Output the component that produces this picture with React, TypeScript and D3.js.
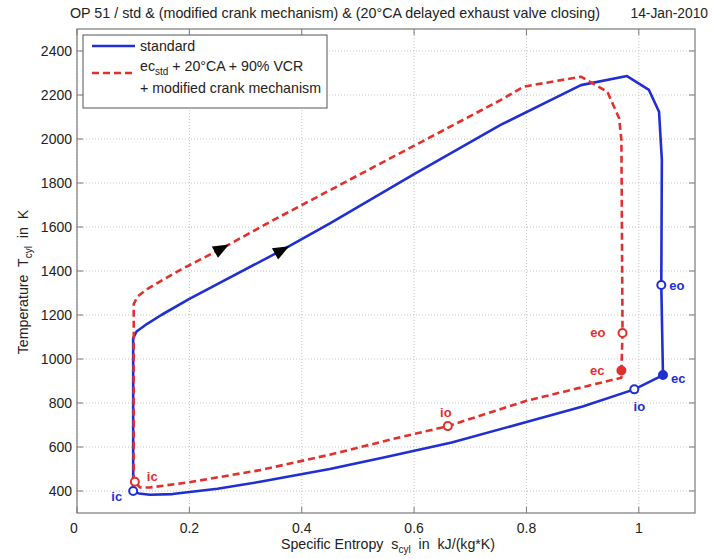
import React from "react";
import * as d3 from "d3";

const W = 713;
const H = 559;
const PL = 77, PR = 695, PT = 29, PB = 513;

const xTicks = [0, 0.2, 0.4, 0.6, 0.8, 1];
const xTickLabels = ["0", "0.2", "0.4", "0.6", "0.8", "1"];
const yTicks = [400, 600, 800, 1000, 1200, 1400, 1600, 1800, 2000, 2200, 2400];

// standard cycle (blue)
const blueS = [0.1, 0.1, 0.106, 0.125, 0.15, 0.2, 0.365, 0.451, 0.6, 0.754, 0.897, 0.979, 1.018, 1.036, 1.041, 1.04, 1.043, 0.992, 0.9, 0.8, 0.667, 0.55, 0.45, 0.326, 0.25, 0.17, 0.13, 0.11, 0.1];
const blueT = [400, 1095, 1125, 1160, 1200, 1273, 1495, 1618, 1840, 2064, 2245, 2286, 2223, 2124, 1905, 1336, 927, 862, 784, 714, 620, 555, 500, 442, 410, 386, 383, 389, 400];

// modified cycle (red dashed)
const redS = [0.101, 0.101, 0.108, 0.125, 0.184, 0.258, 0.35, 0.55, 0.754, 0.795, 0.897, 0.944, 0.965, 0.969, 0.971, 0.969, 0.969, 0.8, 0.66, 0.576, 0.45, 0.326, 0.2, 0.13, 0.112, 0.103];
const redT = [442, 1250, 1285, 1318, 1405, 1503, 1632, 1902, 2177, 2238, 2283, 2215, 2094, 1995, 1118, 948, 915, 810, 695, 645, 565, 495, 440, 416, 416, 442];

const markNames = ["ic", "eo", "ec", "io"];
const blueMarkS = [0.1, 1.04, 1.043, 0.992];
const blueMarkT = [400, 1336, 927, 862];
const redMarkS = [0.103, 0.971, 0.969, 0.66];
const redMarkT = [442, 1118, 948, 695];
const markFilled = [false, false, true, false];

// label placement (style)
const blueLabelOff = [
  { dx: -11, dy: 10, a: "end" },
  { dx: 8, dy: 5, a: "start" },
  { dx: 8, dy: 8, a: "start" },
  { dx: 5, dy: 22, a: "middle" },
];
const redLabelOff = [
  { dx: 12, dy: -1, a: "start" },
  { dx: -17, dy: 4, a: "end" },
  { dx: -17, dy: 5, a: "end" },
  { dx: -2, dy: -9, a: "middle" },
];

// arrows: position and segment index giving direction
const arrowBlue = { s: 0.365, T: 1495, i: 6 };
const arrowRed = { s: 0.258, T: 1503, i: 5 };

const BLUE = "#1f2fd2";
const RED = "#e3302c";
const FONT = "'Liberation Sans', Arial, sans-serif";

export default function App() {
  const x = d3.scaleLinear().domain([0, 1.1]).range([PL, PR]);
  const y = d3.scaleLinear().domain([300, 2500]).range([PB, PT]);

  const line = d3
    .line<[number, number]>()
    .x((d) => x(d[0]))
    .y((d) => y(d[1]));

  const bluePts = blueS.map((s, i) => [s, blueT[i]] as [number, number]);
  const redPts = redS.map((s, i) => [s, redT[i]] as [number, number]);

  const arrow = (a: { s: number; T: number; i: number }, S: number[], T: number[]) => {
    const x0 = x(S[a.i - 1]), y0 = y(T[a.i - 1]);
    const x1 = x(S[a.i + 1]), y1 = y(T[a.i + 1]);
    const ang = (Math.atan2(y1 - y0, x1 - x0) * 180) / Math.PI;
    const cx = x(a.s), cy = y(a.T);
    return (
      <path
        d="M 8 0 L -8 -6.5 L -8 6.5 Z"
        fill="#000"
        transform={`translate(${cx},${cy}) rotate(${ang})`}
      />
    );
  };

  return (
    <svg width={W} height={H} style={{ display: "block", position: "absolute", left: 0, top: 0 }} fontFamily={FONT}>
      <rect x={0} y={0} width={W} height={H} fill="#fff" />
      {/* title */}
      <text x={70} y={18} fontSize={14.3} fill="#222" style={{ whiteSpace: "pre" }}>
        OP 51 / std &amp; (modified crank mechanism) &amp; (20°CA delayed exhaust valve closing)
      </text>
      <text x={708} y={18} fontSize={13.8} fill="#222" textAnchor="end">14-Jan-2010</text>

      {/* grid */}
      {xTicks.map((t) => (
        <line key={"gx" + t} x1={x(t)} x2={x(t)} y1={PT} y2={PB} stroke="#c4c4c4" strokeDasharray="1,2" />
      ))}
      {yTicks.map((t) => (
        <line key={"gy" + t} x1={PL} x2={PR} y1={y(t)} y2={y(t)} stroke="#c4c4c4" strokeDasharray="1,2" />
      ))}

      {/* curves */}
      <path d={line(bluePts) || ""} fill="none" stroke={BLUE} strokeWidth={2.6} strokeLinejoin="round" />
      <path d={line(redPts) || ""} fill="none" stroke={RED} strokeWidth={2.6} strokeDasharray="7,4" strokeLinejoin="round" />

      {arrow(arrowBlue, blueS, blueT)}
      {arrow(arrowRed, redS, redT)}

      {/* markers */}
      {markNames.map((n, i) => (
        <g key={"bm" + n}>
          <circle cx={x(blueMarkS[i])} cy={y(blueMarkT[i])} r={4} fill={markFilled[i] ? BLUE : "#fff"} stroke={BLUE} strokeWidth={2} />
          <text
            x={x(blueMarkS[i]) + blueLabelOff[i].dx}
            y={y(blueMarkT[i]) + blueLabelOff[i].dy}
            textAnchor={blueLabelOff[i].a as any}
            fontSize={13}
            fontWeight="bold"
            fill={BLUE}
          >
            {n}
          </text>
        </g>
      ))}
      {markNames.map((n, i) => (
        <g key={"rm" + n}>
          <circle cx={x(redMarkS[i])} cy={y(redMarkT[i])} r={4} fill={markFilled[i] ? RED : "#fff"} stroke={RED} strokeWidth={2} />
          <text
            x={x(redMarkS[i]) + redLabelOff[i].dx}
            y={y(redMarkT[i]) + redLabelOff[i].dy}
            textAnchor={redLabelOff[i].a as any}
            fontSize={13}
            fontWeight="bold"
            fill={RED}
          >
            {n}
          </text>
        </g>
      ))}

      {/* frame & ticks */}
      <rect x={PL} y={PT} width={PR - PL} height={PB - PT} fill="none" stroke="#7a7a7a" strokeWidth={1.2} />
      {xTicks.map((t) => (
        <g key={"tx" + t}>
          <line x1={x(t)} x2={x(t)} y1={PB} y2={PB - 6} stroke="#7a7a7a" />
          <line x1={x(t)} x2={x(t)} y1={PT} y2={PT + 6} stroke="#7a7a7a" />
        </g>
      ))}
      {yTicks.map((t) => (
        <g key={"ty" + t}>
          <line x1={PL} x2={PL + 6} y1={y(t)} y2={y(t)} stroke="#7a7a7a" />
          <line x1={PR} x2={PR - 6} y1={y(t)} y2={y(t)} stroke="#7a7a7a" />
        </g>
      ))}
      {xTicks.map((t, i) => (
        <text key={"lx" + t} x={x(t) - (i === 0 ? 3 : 0)} y={533} textAnchor="middle" fontSize={14} fill="#222">
          {xTickLabels[i]}
        </text>
      ))}
      {yTicks.map((t) => (
        <text key={"ly" + t} x={72} y={y(t) + 5} textAnchor="end" fontSize={14} fill="#222">
          {t}
        </text>
      ))}

      {/* axis titles */}
      <text x={388} y={549} textAnchor="middle" fontSize={14.2} fill="#222" style={{ whiteSpace: "pre" }}>
        <tspan>Specific Entropy  s</tspan>
        <tspan dy={4} fontSize={10}>cyl</tspan>
        <tspan dy={-4}>  in  kJ/(kg*K)</tspan>
      </text>
      <text
        transform="translate(28,282) rotate(-90)"
        textAnchor="middle"
        fontSize={14.2}
        fill="#222"
        style={{ whiteSpace: "pre" }}
      >
        <tspan>Temperature  T</tspan>
        <tspan dy={4} fontSize={10}>cyl</tspan>
        <tspan dy={-4}>  in  K</tspan>
      </text>

      {/* legend */}
      <rect x={83} y={35} width={244} height={73} fill="#fff" stroke="#555" strokeWidth={1} />
      <line x1={92} x2={135} y1={46} y2={46} stroke={BLUE} strokeWidth={2.6} />
      <text x={140} y={51} fontSize={14.2} fill="#222">standard</text>
      <line x1={92} x2={135} y1={73} y2={73} stroke={RED} strokeWidth={2.6} strokeDasharray="7,4" />
      <text x={140} y={71} fontSize={14.2} fill="#222" style={{ whiteSpace: "pre" }}>
        <tspan>ec</tspan>
        <tspan dy={4} fontSize={10}>std</tspan>
        <tspan dy={-4}> + 20°CA + 90% VCR</tspan>
      </text>
      <text x={140} y={93} fontSize={14.2} fill="#222">+ modified crank mechanism</text>
    </svg>
  );
}
